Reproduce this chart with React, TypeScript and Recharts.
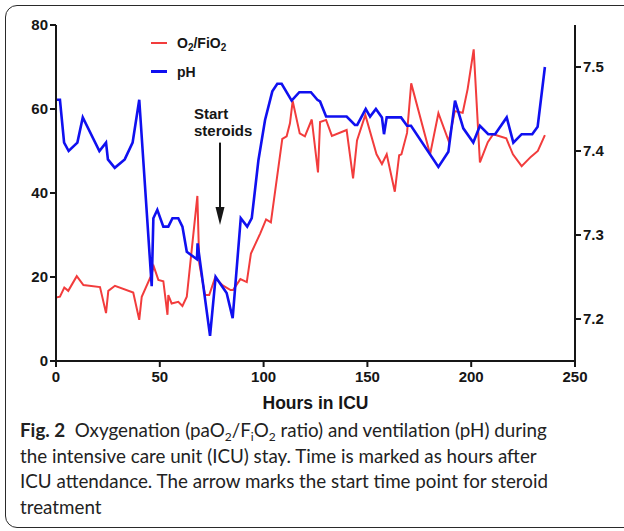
import React from "react";
import { Legend, Line, LineChart, ReferenceLine, XAxis, YAxis } from "recharts";

// pH (right axis), hours after ICU admission
const phHours = [
	0, 1.9, 3.9, 6.1, 10.3, 12.9, 20.9, 24.1, 25.0, 28.3, 33.1, 36.9, 40.1, 46.1,
	46.9, 48.8, 51.7, 54.1, 56.1, 58.9, 60.9, 63.0, 67.9, 68.2, 74.2, 76.9, 82.2,
	85.1, 89.0, 92.1, 94.3, 97.5, 100.7, 104.2, 106.6, 108.7, 113.5, 117.2, 122.8,
	125.9, 127.2, 130.1, 140.0, 144.0, 145.1, 149.2, 151.3, 154.1, 157.0, 158.0,
	159.3, 166.2, 169.1, 171.0, 184.2, 189.0, 192.2, 196.2, 201.0, 204.2, 208.2,
	211.5, 217.1, 220.3, 224.3, 229.4, 232.0, 235.5,
];
const phValues = [
	7.461, 7.461, 7.41, 7.4, 7.41, 7.44, 7.4, 7.41, 7.39, 7.38, 7.39, 7.41, 7.461,
	7.239, 7.32, 7.33, 7.31, 7.31, 7.32, 7.32, 7.31, 7.28, 7.271, 7.29, 7.18, 7.25,
	7.231, 7.201, 7.32, 7.31, 7.32, 7.389, 7.437, 7.471, 7.48, 7.48, 7.46, 7.47,
	7.47, 7.461, 7.459, 7.441, 7.441, 7.431, 7.431, 7.45, 7.441, 7.45, 7.44, 7.42,
	7.44, 7.44, 7.43, 7.43, 7.381, 7.399, 7.46, 7.427, 7.41, 7.43, 7.42, 7.42,
	7.44, 7.41, 7.42, 7.42, 7.429, 7.5,
];

// paO2/FiO2 (left axis)
const oxHours = [
	0, 1.9, 4.0, 5.9, 10.0, 13.2, 21.2, 24.1, 25.2, 28.4, 37.2, 40.1, 41.3, 45.6,
	47.1, 49.3, 51.7, 53.7, 54.1, 55.7, 58.9, 60.9, 63.0, 68.1, 69.0, 71.8, 73.8,
	76.6, 80.3, 84.1, 85.3, 88.8, 91.9, 93.9, 98.4, 101.2, 103.5, 109.0, 111.1,
	112.7, 114.0, 117.4, 119.9, 123.2, 126.2, 127.2, 130.1, 132.9, 140.0, 143.1,
	145.0, 149.0, 154.4, 157.0, 159.3, 163.2, 165.3, 166.4, 169.1, 171.1, 180.2,
	184.2, 189.2, 192.1, 195.9, 198.3, 201.2, 204.2, 208.0, 210.6, 216.9, 220.1,
	224.3, 228.7, 232.1, 235.5,
];
const oxValues = [
	15.1, 15.3, 17.5, 16.7, 20.2, 18.1, 17.6, 11.4, 16.7, 17.9, 16.3, 9.8, 15.3,
	20.1, 22.5, 19.3, 19.0, 11.0, 15.7, 13.7, 14.1, 13.1, 15.3, 39.3, 23.3, 15.7,
	15.7, 19.8, 18.0, 16.9, 16.9, 19.5, 18.8, 25.6, 30.4, 33.7, 33.0, 52.9, 53.5,
	56.6, 61.9, 54.2, 53.5, 57.5, 44.9, 56.9, 57.4, 53.6, 55.0, 43.5, 52.5, 58.6,
	49.2, 46.9, 49.2, 40.3, 49.0, 49.2, 54.3, 66.1, 49.2, 59.0, 52.3, 59.5, 59.1,
	64.8, 74.2, 47.3, 52.1, 54.0, 53.0, 49.2, 46.4, 48.6, 50.0, 53.8,
];

const xTicks = [0, 50, 100, 150, 200, 250];
const leftTicks = [0, 20, 40, 60, 80];
const rightTicks = [7.2, 7.3, 7.4, 7.5];
const steroidStart = 79;

const phData = phHours.map((h, i) => ({ hours: h, ph: phValues[i] }));
const oxData = oxHours.map((h, i) => ({ hours: h, ratio: oxValues[i] }));

const RED = "#f23c3c";
const BLUE = "#1010f0";
const INK = "#161616";
const chartFont = '"Liberation Sans", Arial, sans-serif';
const tickStyle = { fill: INK, fontSize: 15, fontWeight: 700, fontFamily: chartFont };

const SteroidArrow = (props: any) => {
	const { x1, y1, x2, y2 } = props;
	const textStyle = { fontSize: 15, fontWeight: 700, fontFamily: chartFont };
	return (
		<g>
			<line x1={x1} y1={y1} x2={x2} y2={y2 - 14} stroke={INK} strokeWidth={2} />
			<polygon
				points={`${x2 - 4.5},${y2 - 18} ${x2 + 4.5},${y2 - 18} ${x2},${y2}`}
				fill={INK}
			/>
			<text x={x1 - 26} y={y1 - 23.5} fill={INK} style={textStyle}>
				Start
			</text>
			<text x={x1 - 26} y={y1 - 6.7} fill={INK} style={textStyle}>
				steroids
			</text>
		</g>
	);
};

const renderLegend = () => {
	const row = (color: string, label: React.ReactNode) => (
		<div style={{ display: "flex", alignItems: "center", height: 28.4 }}>
			<span style={{ width: 16, height: 2.5, background: color, marginRight: 10 }} />
			<span style={{ fontFamily: chartFont, fontWeight: 700, fontSize: 14, color: INK }}>
				{label}
			</span>
		</div>
	);
	const sub = { fontSize: 10, verticalAlign: "-3px", lineHeight: 0 } as const;
	return (
		<div>
			{row(
				RED,
				<>
					O<span style={sub}>2</span>/FiO<span style={sub}>2</span>
				</>,
			)}
			{row(BLUE, "pH")}
		</div>
	);
};

export default function App() {
	const capSub = { fontSize: 12, verticalAlign: "-4px", lineHeight: 0 } as const;
	return (
		<div
			style={{
				position: "absolute",
				left: 0,
				top: 0,
				width: 624,
				height: 531,
				overflow: "hidden",
				background: "#fff",
			}}
		>
			<div
				style={{
					position: "absolute",
					left: 5,
					top: 5,
					width: 660,
					height: 521,
					border: "1.5px solid #2a2a2a",
					borderRadius: 12,
				}}
			/>
			<div style={{ position: "absolute", left: 0, top: 0 }}>
				<LineChart
					width={624}
					height={420}
					margin={{ top: 25, right: 0, left: 0, bottom: 0 }}
				>
					<XAxis
						dataKey="hours"
						type="number"
						domain={[0, 250]}
						ticks={xTicks}
						height={59}
						tick={tickStyle}
						tickMargin={4}
						axisLine={{ stroke: INK, strokeWidth: 2 }}
						tickLine={{ stroke: INK, strokeWidth: 2 }}
						allowDuplicatedCategory={false}
						label={{
							value: "Hours in ICU",
							position: "insideBottom",
							offset: 11,
							style: {
								fill: INK,
								fontSize: 17.5,
								fontWeight: 700,
								fontFamily: chartFont,
							},
						}}
					/>
					<YAxis
						yAxisId="left"
						orientation="left"
						domain={[0, 80]}
						ticks={leftTicks}
						width={56}
						tick={tickStyle}
						axisLine={{ stroke: INK, strokeWidth: 2 }}
						tickLine={{ stroke: INK, strokeWidth: 2 }}
					/>
					<YAxis
						yAxisId="right"
						orientation="right"
						domain={[7.15, 7.55]}
						ticks={rightTicks}
						width={49}
						tick={tickStyle}
						tickFormatter={(v: number) => v.toFixed(1)}
						axisLine={{ stroke: INK, strokeWidth: 2 }}
						tickLine={{ stroke: INK, strokeWidth: 2 }}
					/>
					<Legend
						layout="horizontal"
						verticalAlign="middle"
						align="center"
						content={renderLegend}
						wrapperStyle={{ left: 151, top: 29, width: "auto", height: "auto" }}
					/>
					<Line
						yAxisId="left"
						data={oxData}
						dataKey="ratio"
						name="O2/FiO2"
						stroke={RED}
						strokeWidth={2}
						dot={false}
						type="linear"
						isAnimationActive={false}
					/>
					<Line
						yAxisId="right"
						data={phData}
						dataKey="ph"
						name="pH"
						stroke={BLUE}
						strokeWidth={2.6}
						dot={false}
						type="linear"
						isAnimationActive={false}
					/>
					<ReferenceLine
						yAxisId="left"
						segment={[
							{ x: steroidStart, y: 52 },
							{ x: steroidStart, y: 32.4 },
						]}
						shape={SteroidArrow}
					/>
				</LineChart>
			</div>
			<div
				style={{
					position: "absolute",
					left: 20,
					top: 417,
					fontFamily: "Lato, sans-serif",
					fontSize: 18.8,
					lineHeight: "25.7px",
					color: "#222",
					whiteSpace: "nowrap",
				}}
			>
				<div>
					<b>Fig. 2</b>&nbsp;&nbsp;Oxygenation (paO<span style={capSub}>2</span>/F
					<span style={capSub}>i</span>O<span style={capSub}>2</span> ratio) and
					ventilation (pH) during
				</div>
				<div>the intensive care unit (ICU) stay. Time is marked as hours after</div>
				<div>ICU attendance. The arrow marks the start time point for steroid</div>
				<div>treatment</div>
			</div>
		</div>
	);
}
